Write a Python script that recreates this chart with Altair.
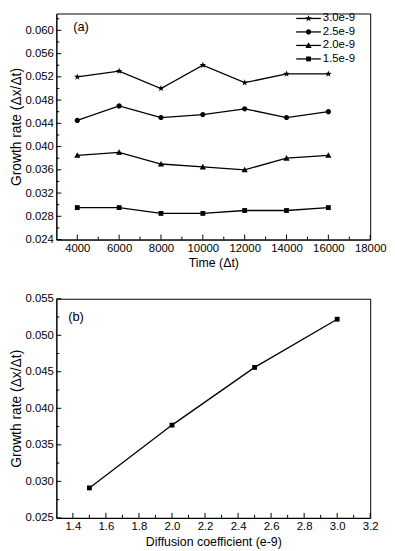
import altair as alt
import pandas as pd

# ---------------- data ----------------
time_steps = [4000, 6000, 8000, 10000, 12000, 14000, 16000]
series_names = ["3.0e-9", "2.5e-9", "2.0e-9", "1.5e-9"]
rate_30 = [0.0520, 0.0530, 0.0500, 0.0540, 0.0510, 0.0525, 0.0525]
rate_25 = [0.0445, 0.0470, 0.0450, 0.0455, 0.0465, 0.0450, 0.0460]
rate_20 = [0.0385, 0.0390, 0.0370, 0.0365, 0.0360, 0.0380, 0.0385]
rate_15 = [0.0295, 0.0295, 0.0285, 0.0285, 0.0290, 0.0290, 0.0295]

diff_coef = [1.5, 2.0, 2.5, 3.0]
diff_rate = [0.0291, 0.0377, 0.0456, 0.0522]

# tick values
xa_major = [4000, 6000, 8000, 10000, 12000, 14000, 16000, 18000]
xa_minor = [5000, 7000, 9000, 11000, 13000, 15000, 17000]
ya_major = [0.024, 0.028, 0.032, 0.036, 0.040, 0.044, 0.048, 0.052, 0.056, 0.060]
ya_minor = [0.026, 0.030, 0.034, 0.038, 0.042, 0.046, 0.050, 0.054, 0.058, 0.062]
xb_major = [1.4, 1.6, 1.8, 2.0, 2.2, 2.4, 2.6, 2.8, 3.0, 3.2]
xb_minor = [1.5, 1.7, 1.9, 2.1, 2.3, 2.5, 2.7, 2.9, 3.1]
yb_major = [0.025, 0.030, 0.035, 0.040, 0.045, 0.050, 0.055]
yb_minor = [0.0275, 0.0325, 0.0375, 0.0425, 0.0475, 0.0525]

rows = []
for name, vals in zip(series_names, [rate_30, rate_25, rate_20, rate_15]):
    for t, v in zip(time_steps, vals):
        rows.append({"series": name, "time": t, "rate": v})
df_a = pd.DataFrame(rows)
df_b = pd.DataFrame({"D": diff_coef, "rate": diff_rate})
df_leg = pd.DataFrame({"series": series_names})

# ---------------- marker shapes ----------------
STAR = [(0, -1), (0.235, -0.324), (0.951, -0.309), (0.380, 0.124), (0.588, 0.809),
        (0, 0.4), (-0.588, 0.809), (-0.380, 0.124), (-0.951, -0.309), (-0.235, -0.324)]


def star(s):
    return "M" + "L".join(f"{x*s:.3f},{y*s:.3f}" for x, y in STAR) + "Z"


def circle(s):
    return f"M{-s:.3f},0A{s:.3f},{s:.3f} 0 1,0 {s:.3f},0A{s:.3f},{s:.3f} 0 1,0 {-s:.3f},0Z"


def tri(s):
    return f"M0,{-s:.3f}L{s:.3f},{0.8*s:.3f}L{-s:.3f},{0.8*s:.3f}Z"


def square(s):
    return f"M{-s:.3f},{-s:.3f}H{s:.3f}V{s:.3f}H{-s:.3f}Z"


plot_scale = [1.0, 0.75, 0.9, 0.7]
makers = [star, circle, tri, square]
marker_paths = [m(s) for m, s in zip(makers, plot_scale)]

FONT = "Liberation Sans"
W = 318
HA = 229
HB = 222


def axis(values, fmt, title_size, title_pad):
    return alt.Axis(values=values, format=fmt, ticks=False, grid=False, labelPadding=3,
                    labelOverlap=False, labelFlush=False, labelFontSize=11.5,
                    titleFontSize=title_size, titlePadding=title_pad)


def inward_ticks(vals, xenc, yenc, H, length, horizontal):
    d = pd.DataFrame({"v": vals})
    if horizontal:
        return alt.Chart(d).mark_rule(color="black", strokeWidth=1).encode(
            x=xenc, y=alt.value(H), y2=alt.value(H - length))
    return alt.Chart(d).mark_rule(color="black", strokeWidth=1).encode(
        y=yenc, x=alt.value(0), x2=alt.value(length))


# ---------------- panel (a) ----------------
sc_xa = alt.Scale(domain=[3000, 18000], nice=False, zero=False)
sc_ya = alt.Scale(domain=[0.024, 0.0629], nice=False, zero=False)
ax_xa = axis(xa_major, "d", 12.5, 3)
ax_ya = axis(ya_major, ".3f", 14, 2)
xa = alt.X("time:Q", title="Time (Δt)", scale=sc_xa, axis=ax_xa)
ya = alt.Y("rate:Q", title="Growth rate (Δx/Δt)", scale=sc_ya, axis=ax_ya)
xa_t = alt.X("v:Q", title="Time (Δt)", scale=sc_xa, axis=ax_xa)
ya_t = alt.Y("v:Q", title="Growth rate (Δx/Δt)", scale=sc_ya, axis=ax_ya)
shape_a = alt.Shape("series:N", scale=alt.Scale(domain=series_names, range=marker_paths), legend=None)
off_leg = alt.YOffset("series:N", scale=alt.Scale(type="point", domain=series_names,
                                                  range=[0, 41], padding=0))

base_a = alt.Chart(df_a)
lines_a = base_a.mark_line(color="black", strokeWidth=1.3).encode(x=xa, y=ya, detail="series:N")
pts_a = base_a.mark_point(filled=True, color="black", opacity=1, size=49).encode(
    x=xa, y=ya, shape=shape_a)

LEG_Y = 5
leg_line = alt.Chart(df_leg).mark_rule(color="black", strokeWidth=1.3).encode(
    x=alt.value(W - 75), x2=alt.value(W - 50), y=alt.value(LEG_Y), yOffset=off_leg)
leg_pts = alt.Chart(df_leg).mark_point(filled=True, color="black", opacity=1, size=49).encode(
    x=alt.value(W - 62.5), y=alt.value(LEG_Y), yOffset=off_leg, shape=shape_a)
leg_txt = alt.Chart(df_leg).mark_text(align="left", baseline="middle", fontSize=11.5,
                                      font=FONT, color="black").encode(
    x=alt.value(W - 48), y=alt.value(LEG_Y), yOffset=off_leg, text="series:N")

text_a = alt.Chart(pd.DataFrame({"t": ["(a)"]})).mark_text(
    align="left", baseline="middle", fontSize=13, font=FONT, color="black").encode(
    text="t:N", x=alt.value(17), y=alt.value(14))

panel_a = alt.layer(
    lines_a, pts_a,
    inward_ticks(xa_major, xa_t, ya_t, HA, 5, True), inward_ticks(xa_minor, xa_t, ya_t, HA, 3, True),
    inward_ticks(ya_major, xa_t, ya_t, HA, 5, False), inward_ticks(ya_minor, xa_t, ya_t, HA, 3, False),
    leg_line, leg_pts, leg_txt, text_a,
).properties(width=W, height=HA)

# ---------------- panel (b) ----------------
sc_xb = alt.Scale(domain=[1.3, 3.2], nice=False, zero=False)
sc_yb = alt.Scale(domain=[0.025, 0.055], nice=False, zero=False)
ax_xb = axis(xb_major, ".1f", 12.5, 4)
ax_yb = axis(yb_major, ".3f", 14, 2)
xb = alt.X("D:Q", title="Diffusion coefficient (e-9)", scale=sc_xb, axis=ax_xb)
yb = alt.Y("rate:Q", title="Growth rate (Δx/Δt)", scale=sc_yb, axis=ax_yb)
xb_t = alt.X("v:Q", title="Diffusion coefficient (e-9)", scale=sc_xb, axis=ax_xb)
yb_t = alt.Y("v:Q", title="Growth rate (Δx/Δt)", scale=sc_yb, axis=ax_yb)

base_b = alt.Chart(df_b)
line_b = base_b.mark_line(color="black", strokeWidth=1.3).encode(x=xb, y=yb)
pts_b = base_b.mark_point(filled=True, color="black", opacity=1, size=49, shape=square(0.7)).encode(x=xb, y=yb)
text_b = alt.Chart(pd.DataFrame({"t": ["(b)"]})).mark_text(
    align="left", baseline="middle", fontSize=13, font=FONT, color="black").encode(
    text="t:N", x=alt.value(12), y=alt.value(19))

panel_b = alt.layer(
    line_b, pts_b,
    inward_ticks(xb_major, xb_t, yb_t, HB, 5, True), inward_ticks(xb_minor, xb_t, yb_t, HB, 3, True),
    inward_ticks(yb_major, xb_t, yb_t, HB, 5, False), inward_ticks(yb_minor, xb_t, yb_t, HB, 3, False),
    text_b,
).properties(width=W, height=HB)

chart = alt.vconcat(panel_a, panel_b, spacing=22).properties(padding=0).configure_view(
    stroke="black", strokeWidth=1
).configure_axis(
    domainColor="black", domainWidth=1, labelColor="black", titleColor="black",
    labelFont=FONT, titleFont=FONT, titleFontWeight="normal"
)

chart.save("out.html", embed_options={"renderer": "svg", "actions": False})
